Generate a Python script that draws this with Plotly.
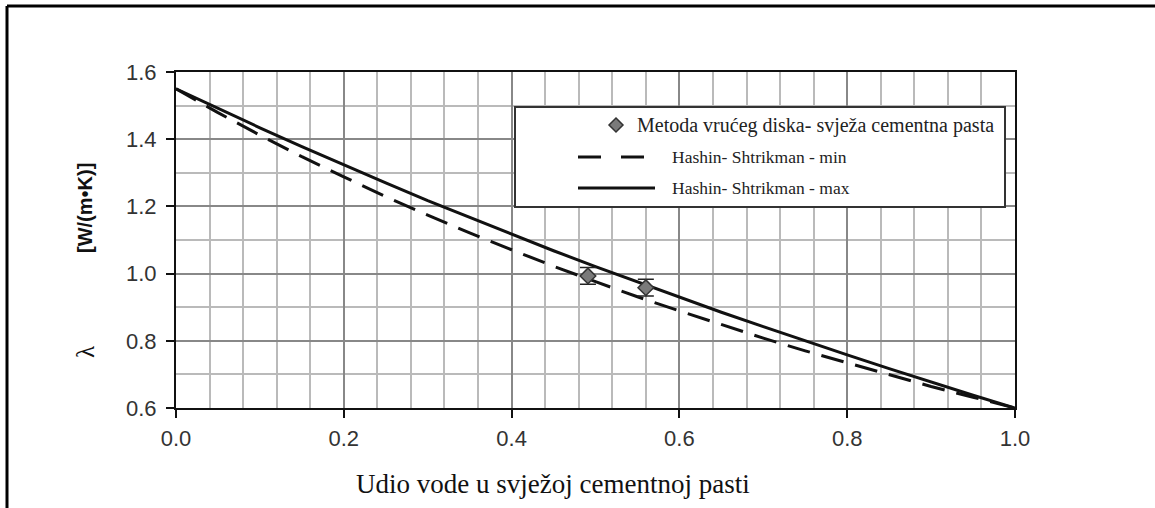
import plotly.graph_objects as go

# Water fraction in fresh cement paste and thermal conductivity bounds
water_fraction = [0.00, 0.05, 0.10, 0.15, 0.20, 0.25, 0.30, 0.35, 0.40, 0.45, 0.50,
                  0.55, 0.60, 0.65, 0.70, 0.75, 0.80, 0.85, 0.90, 0.95, 1.00]
hs_max = [1.550, 1.491, 1.434, 1.378, 1.323, 1.270, 1.217, 1.167, 1.117, 1.068, 1.021,
          0.975, 0.929, 0.885, 0.842, 0.799, 0.758, 0.717, 0.677, 0.638, 0.600]
hs_min = [1.550, 1.479, 1.412, 1.348, 1.288, 1.229, 1.174, 1.121, 1.071, 1.022, 0.976,
          0.931, 0.889, 0.848, 0.808, 0.770, 0.734, 0.698, 0.664, 0.632, 0.600]

# Hot disk measurements
meas_x = [0.491, 0.560]
meas_y = [0.993, 0.958]
meas_err = [0.025, 0.025]

x_ticks = [0.0, 0.2, 0.4, 0.6, 0.8, 1.0]
y_ticks = [0.6, 0.8, 1.0, 1.2, 1.4, 1.6]

legend_labels = ["Metoda vrućeg diska- svježa cementna pasta",
                 "Hashin- Shtrikman - min",
                 "Hashin- Shtrikman - max"]
x_title = "Udio vode u svježoj cementnoj pasti"
y_symbol = "λ"
y_unit = "[W/(m•K)]"

W, H = 1155, 508
ML, MR, MT, MB = 176, 140, 72, 100
PW, PH = W - ML - MR, H - MT - MB


def px(x):
    return (x - ML) / PW


def py(y):
    return (H - MB - y) / PH


fig = go.Figure()

fig.add_trace(go.Scatter(
    x=water_fraction, y=hs_min, mode="lines",
    line=dict(color="#111111", width=3, dash="23px,12px"),
    showlegend=False, hoverinfo="skip"))
fig.add_trace(go.Scatter(
    x=water_fraction, y=hs_max, mode="lines",
    line=dict(color="#111111", width=3),
    showlegend=False, hoverinfo="skip"))
fig.add_trace(go.Scatter(
    x=meas_x, y=meas_y, mode="markers",
    marker=dict(symbol="diamond", size=12, color="#7a7a7a",
                line=dict(color="#333333", width=1.5)),
    error_y=dict(type="data", array=meas_err, visible=True,
                 color="#222222", thickness=1.5, width=8),
    showlegend=False))

axis_common = dict(
    showline=True, linecolor="#111111", linewidth=2, mirror=True,
    ticks="outside", ticklen=8, tickwidth=1.5, tickcolor="#111111",
    showgrid=True, gridcolor="#888888", gridwidth=2,
    tickfont=dict(family="Liberation Sans, Arial", size=22, color="#333333"),
    zeroline=False,
)

fig.update_xaxes(
    range=[0, 1], tickvals=x_ticks, ticktext=[f"{v:.1f}" for v in x_ticks],
    ticklabelstandoff=2,
    minor=dict(dtick=0.04, tick0=0, showgrid=True, gridcolor="#bababa", gridwidth=1.5),
    **axis_common)
fig.update_yaxes(
    range=[0.6, 1.6], tickvals=y_ticks, ticktext=[f"{v:.1f}" for v in y_ticks],
    ticklabelstandoff=5,
    minor=dict(dtick=0.1, tick0=0.6, showgrid=True, gridcolor="#bababa", gridwidth=1.5),
    **axis_common)

shapes = [
    # page frame (top and left)
    dict(type="line", xref="paper", yref="paper", x0=px(7), x1=px(W + 5),
         y0=py(6), y1=py(6), line=dict(color="#000000", width=3)),
    dict(type="line", xref="paper", yref="paper", x0=px(7), x1=px(7),
         y0=py(6), y1=py(H + 5), line=dict(color="#000000", width=3)),
    # legend box
    dict(type="rect", xref="paper", yref="paper", x0=px(515), x1=px(1005),
         y0=py(107), y1=py(207), fillcolor="white",
         line=dict(color="#333333", width=2), layer="above"),
    # legend samples
    dict(type="line", xref="paper", yref="paper", x0=px(578), x1=px(647),
         y0=py(157), y1=py(157), line=dict(color="#111111", width=3, dash="23px,20px"),
         layer="above"),
    dict(type="line", xref="paper", yref="paper", x0=px(578), x1=px(655),
         y0=py(188), y1=py(188), line=dict(color="#111111", width=3), layer="above"),
]
cx, cy, r = 616, 125, 7
shapes.append(dict(
    type="path", xref="paper", yref="paper",
    path=f"M {px(cx)} {py(cy - r)} L {px(cx + r)} {py(cy)} L {px(cx)} {py(cy + r)} "
         f"L {px(cx - r)} {py(cy)} Z",
    fillcolor="#7a7a7a", line=dict(color="#333333", width=1.5), layer="above"))

serif = "Liberation Serif, Times New Roman"
annotations = [
    dict(x=px(635), y=py(125), text=legend_labels[0], xanchor="left", yanchor="middle",
         font=dict(family=serif, size=20, color="#222222")),
    dict(x=px(670), y=py(157), text=legend_labels[1], xanchor="left", yanchor="middle",
         font=dict(family=serif, size=17.5, color="#222222")),
    dict(x=px(670), y=py(188), text=legend_labels[2], xanchor="left", yanchor="middle",
         font=dict(family=serif, size=17.5, color="#222222")),
]
for a in annotations:
    a.update(xref="paper", yref="paper", showarrow=False)

annotations += [
    dict(x=px(553), y=py(484), text=x_title, xref="paper", yref="paper",
         showarrow=False, xanchor="center", yanchor="middle",
         font=dict(family=serif, size=27, color="#111111")),
    dict(x=px(85), y=py(352), text=y_symbol, xref="paper", yref="paper",
         showarrow=False, xanchor="center", yanchor="middle", textangle=-90,
         font=dict(family=serif, size=25, color="#111111")),
    dict(x=px(85), y=py(208), text=f"<b>{y_unit}</b>", xref="paper", yref="paper",
         showarrow=False, xanchor="center", yanchor="middle", textangle=-90,
         font=dict(family="Liberation Sans, Arial", size=20, color="#111111")),
]

fig.update_layout(
    width=W, height=H,
    margin=dict(l=ML, r=MR, t=MT, b=MB),
    paper_bgcolor="white", plot_bgcolor="white",
    shapes=shapes, annotations=annotations,
    showlegend=False,
)

fig.write_html("out.html")
